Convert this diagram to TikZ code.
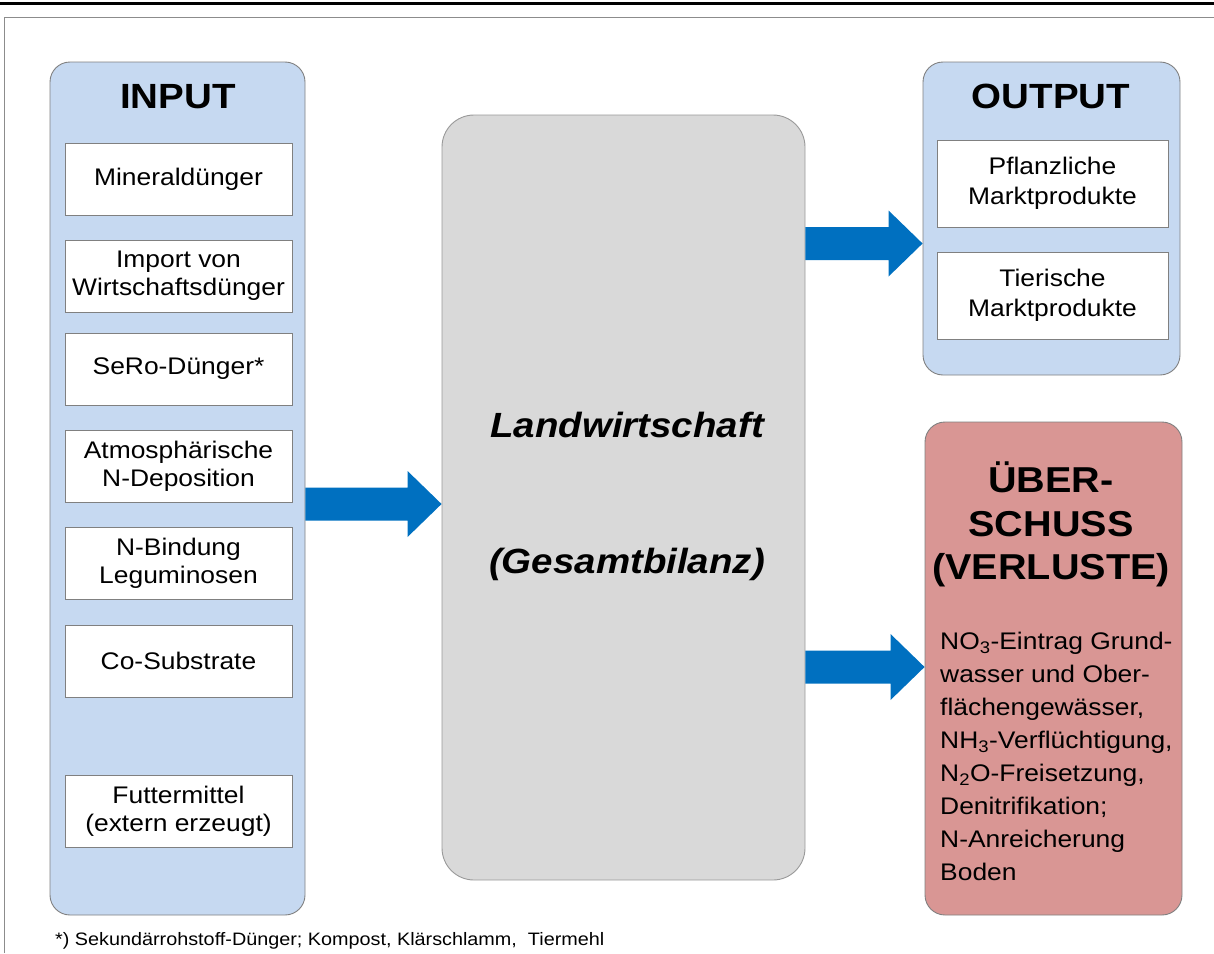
\documentclass[tikz,border=0pt]{standalone}
\usepackage{fontspec}
\setmainfont[FakeStretch=1.1]{Liberation Sans}
\usetikzlibrary{calc}
\definecolor{panelblue}{RGB}{198,217,241}
\definecolor{panelline}{RGB}{128,128,128}
\definecolor{landgray}{RGB}{217,217,217}
\definecolor{verlustred}{RGB}{217,150,148}
\definecolor{arrowblue}{RGB}{0,112,192}
\definecolor{frameline}{RGB}{140,140,140}
\newcommand\fatarrow[2]{%
  \fill[arrowblue] ($(#1)+(0,-16.5)$) -- ($(#2)+(-34,-16.5)$) -- ($(#2)+(-34,-33)$) -- (#2)
    -- ($(#2)+(-34,33)$) -- ($(#2)+(-34,16.5)$) -- ($(#1)+(0,16.5)$) -- cycle;}
\begin{document}
\begin{tikzpicture}[x=1pt,y=-1pt,
  panel/.style={draw=panelline, line width=0.9pt, rounded corners=20pt, inner sep=0pt},
  itembox/.style={draw=panelline, line width=0.8pt, fill=white, minimum width=227pt, minimum height=72pt,
    inner sep=0pt, align=center, font=\fontsize{24}{28}\selectfont},
  outbox/.style={itembox, minimum width=231pt, minimum height=87pt, font=\fontsize{24}{30}\selectfont},
  title/.style={font=\fontsize{35}{44}\selectfont\bfseries, inner sep=0pt, anchor=base},
  vtitle/.style={title, font=\fontsize{36}{44}\selectfont\bfseries},
  centertext/.style={inner sep=0pt, anchor=base, font=\fontsize{35}{40}\selectfont\bfseries\itshape},
]
\useasboundingbox (0,0) rectangle (1214,953);
% frame
\draw[line width=3.5pt] (0,3.5) -- (1214,3.5);
\draw[frameline, line width=1pt] (4,953) -- (4,17) -- (1214,17);

% panels
\node[panel, fill=panelblue, minimum width=255pt, minimum height=853pt] (input) at (177.5,488.5) {};
\node[panel, fill=landgray, draw=panelline!80, rounded corners=32pt, minimum width=363pt, minimum height=765pt] (land) at (623.5,497.5) {};
\node[panel, fill=panelblue, minimum width=257pt, minimum height=313pt] (output) at (1051.5,218.5) {};
\node[panel, fill=verlustred, minimum width=257pt, minimum height=493pt] (verl) at (1053.5,668.5) {};

% titles
\node[title] (intitle) at (178,108) {INPUT};
\node[title] (outtitle) at (1051,108) {OUTPUT};
\node[vtitle] (vt1) at (1051,492) {ÜBER-};
\node[vtitle] (vt2) at (1051,536) {SCHUSS};
\node[vtitle] (vt3) at (1051,579) {(VERLUSTE)};

% input items
\node[itembox] (i1) at (178.5,179) {Mineraldünger};
\node[itembox] (i2) at (178.5,276) {Import von\\Wirtschaftsdünger};
\node[itembox] (i3) at (178.5,369) {SeRo-Dünger*};
\node[itembox] (i4) at (178.5,466) {Atmosphärische\\N-Deposition};
\node[itembox] (i5) at (178.5,563) {N-Bindung\\Leguminosen};
\node[itembox] (i6) at (178.5,661) {Co-Substrate};
\node[itembox] (i7) at (178.5,811) {Futtermittel\\(extern erzeugt)};

% output items
\node[outbox] (o1) at (1052.5,183.5) {Pflanzliche\\Marktprodukte};
\node[outbox] (o2) at (1052.5,295.5) {Tierische\\Marktprodukte};

% center text
\node[centertext] (lt1) at (627,437) {Landwirtschaft};
\node[centertext] (lt2) at (627,573) {(Gesamtbilanz)};

% verluste body
\node[inner sep=0pt, anchor=north west, align=left, font=\fontsize{24}{33}\selectfont] (vbody) at (940,632)
  {NO\textsubscript{3}-Eintrag Grund-\\wasser und Ober-\\flächengewässer,\\NH\textsubscript{3}-Verflüchtigung,\\N\textsubscript{2}O-Freisetzung,\\Denitrifikation;\\N-Anreicherung\\Boden};

% footnote
\node[inner sep=0pt, anchor=base west, font=\fontsize{18}{20}\selectfont] (fn) at (55,945)
  {*) Sekundärrohstoff-Dünger; Kompost, Klärschlamm,\ \ Tiermehl};

% arrows
\coordinate (y1) at (0,504);
\coordinate (y2) at (0,243.5);
\coordinate (y3) at (0,667);
\coordinate (a1s) at (input.east |- y1);
\coordinate (a1t) at (land.west |- y1);
\coordinate (a2s) at (land.east |- y2);
\coordinate (a2t) at (output.west |- y2);
\coordinate (a3s) at (land.east |- y3);
\coordinate (a3t) at (verl.west |- y3);
\fatarrow{a1s}{a1t}
\fatarrow{a2s}{a2t}
\fatarrow{a3s}{a3t}
\end{tikzpicture}
\end{document}
